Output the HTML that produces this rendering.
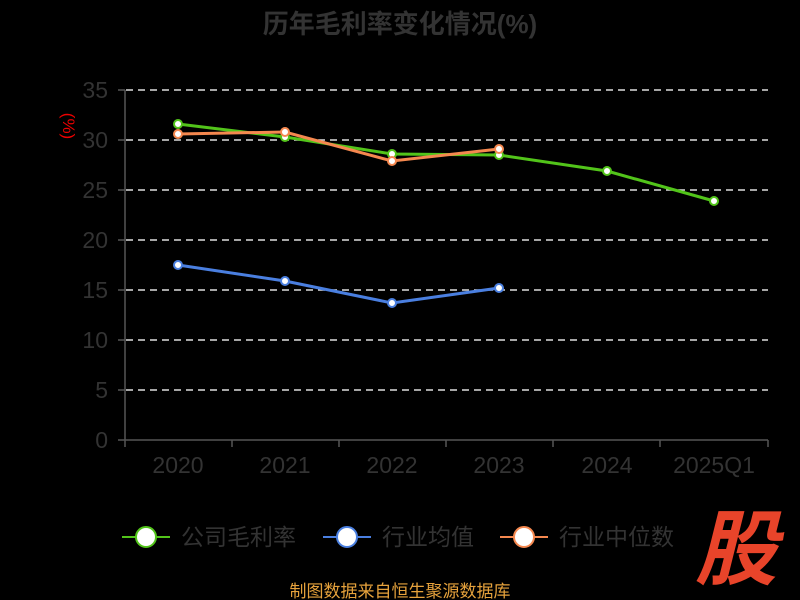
<!DOCTYPE html>
<html><head><meta charset="utf-8"><style>
html,body{margin:0;padding:0;background:#000;}
svg{display:block;font-family:"Liberation Sans","Noto Sans CJK SC",sans-serif;}
</style></head><body>
<svg width="800" height="600" viewBox="0 0 800 600">
<rect width="800" height="600" fill="#000"/>
<text x="400" y="33" text-anchor="middle" font-size="26" font-weight="bold" fill="#333">历年毛利率变化情况(%)</text>
<text transform="translate(63,126) rotate(90)" text-anchor="middle" font-size="17" fill="#e00">(%)</text>
<g stroke="#ddd" stroke-width="1.5" stroke-dasharray="7,5">
<line x1="126" y1="90" x2="768" y2="90"/><line x1="126" y1="140" x2="768" y2="140"/>
<line x1="126" y1="190" x2="768" y2="190"/><line x1="126" y1="240" x2="768" y2="240"/>
<line x1="126" y1="290" x2="768" y2="290"/><line x1="126" y1="340" x2="768" y2="340"/>
<line x1="126" y1="390" x2="768" y2="390"/>
</g>
<g stroke="#555" stroke-width="1.5">
<line x1="125" y1="90" x2="125" y2="440"/><line x1="125" y1="440" x2="768" y2="440"/>
<line x1="118" y1="90" x2="125" y2="90"/><line x1="118" y1="140" x2="125" y2="140"/><line x1="118" y1="190" x2="125" y2="190"/><line x1="118" y1="240" x2="125" y2="240"/><line x1="118" y1="290" x2="125" y2="290"/><line x1="118" y1="340" x2="125" y2="340"/><line x1="118" y1="390" x2="125" y2="390"/><line x1="118" y1="440" x2="125" y2="440"/>
<line x1="125" y1="440" x2="125" y2="447"/><line x1="232" y1="440" x2="232" y2="447"/><line x1="339" y1="440" x2="339" y2="447"/><line x1="446" y1="440" x2="446" y2="447"/><line x1="553" y1="440" x2="553" y2="447"/><line x1="660" y1="440" x2="660" y2="447"/><line x1="768" y1="440" x2="768" y2="447"/>
</g>
<g font-size="23" fill="#333" text-anchor="end">
<text x="108" y="98">35</text><text x="108" y="148">30</text><text x="108" y="198">25</text><text x="108" y="248">20</text><text x="108" y="298">15</text><text x="108" y="348">10</text><text x="108" y="398">5</text><text x="108" y="448">0</text>
</g>
<g font-size="23" fill="#333" text-anchor="middle">
<text x="178" y="473">2020</text><text x="285" y="473">2021</text><text x="392" y="473">2022</text><text x="499" y="473">2023</text><text x="607" y="473">2024</text><text x="714" y="473">2025Q1</text>
</g>
<polyline fill="none" stroke="#52c41a" stroke-width="3" points="178,124 285,137 392,154 499,155 607,171 714,201"/>
<polyline fill="none" stroke="#4a7fe0" stroke-width="3" points="178,265 285,281 392,303 499,288"/>
<polyline fill="none" stroke="#f5884f" stroke-width="3" points="178,134 285,132 392,161 499,149"/>
<g fill="#fff" stroke-width="2">
<g stroke="#52c41a"><circle cx="178" cy="124" r="4"/><circle cx="285" cy="137" r="4"/><circle cx="392" cy="154" r="4"/><circle cx="499" cy="155" r="4"/><circle cx="607" cy="171" r="4"/><circle cx="714" cy="201" r="4"/></g>
<g stroke="#4a7fe0"><circle cx="178" cy="265" r="4"/><circle cx="285" cy="281" r="4"/><circle cx="392" cy="303" r="4"/><circle cx="499" cy="288" r="4"/></g>
<g stroke="#f5884f"><circle cx="178" cy="134" r="4"/><circle cx="285" cy="132" r="4"/><circle cx="392" cy="161" r="4"/><circle cx="499" cy="149" r="4"/></g>
</g>
<g font-size="23" fill="#333">
<line x1="122" y1="537" x2="170" y2="537" stroke="#52c41a" stroke-width="2"/><circle cx="146" cy="537" r="10" fill="#fff" stroke="#52c41a" stroke-width="2"/>
<text x="181" y="545">公司毛利率</text>
<line x1="323" y1="537" x2="371" y2="537" stroke="#4a7fe0" stroke-width="2"/><circle cx="347" cy="537" r="10" fill="#fff" stroke="#4a7fe0" stroke-width="2"/>
<text x="382" y="545">行业均值</text>
<line x1="500" y1="537" x2="548" y2="537" stroke="#f5884f" stroke-width="2"/><circle cx="524" cy="537" r="10" fill="#fff" stroke="#f5884f" stroke-width="2"/>
<text x="559" y="545">行业中位数</text>
</g>
<text x="736" y="578" text-anchor="middle" font-size="82" font-weight="bold" font-style="italic" fill="#e8442a">股</text>
<text x="400" y="597" text-anchor="middle" font-size="17" fill="#e6a23c">制图数据来自恒生聚源数据库</text>
</svg>
</body></html>
